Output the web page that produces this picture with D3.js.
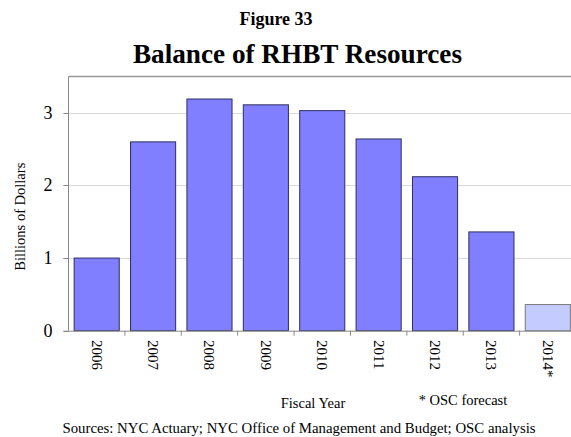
<!DOCTYPE html>
<html>
<head>
<meta charset="utf-8">
<script src="https://cdn.jsdelivr.net/npm/d3@7"></script>
<style>
  body { margin: 0; background: #fff; }
  svg text { font-family: "Liberation Serif", "Times New Roman", serif; fill: #000; }
</style>
</head>
<body>
<div id="chart"></div>
<script>
const years = ['2006', '2007', '2008', '2009', '2010', '2011', '2012', '2013', '2014*'];
const balances = [1.0, 2.6, 3.19, 3.11, 3.03, 2.64, 2.12, 1.36, 0.36];
const forecast = [false, false, false, false, false, false, false, false, true];
const yTicks = [0, 1, 2, 3];

const data = years.map((y, i) => ({year: y, value: balances[i], forecast: forecast[i]}));

const width = 571;
const height = 437;
const plot = {left: 68.5, right: 576, top: 76.5, bottom: 330.7};

const svg = d3.select('#chart')
  .append('svg')
    .attr('width', width)
    .attr('height', height);

const x = d3.scaleBand()
  .domain(years)
  .range([plot.left, plot.right])
  .paddingInner(0.2)
  .paddingOuter(0.1);

const y = d3.scaleLinear()
  .domain([0, 3.5])
  .range([plot.bottom, plot.top]);

// dotted gridlines
svg.append('g')
  .selectAll('line')
  .data(yTicks.filter(d => d > 0))
  .join('line')
    .attr('x1', plot.left - 5)
    .attr('x2', width)
    .attr('y1', d => Math.round(y(d)) + 0.5)
    .attr('y2', d => Math.round(y(d)) + 0.5)
    .attr('stroke', '#b0b0b0')
    .attr('stroke-dasharray', '1 1');

// bars
svg.append('g')
  .selectAll('rect')
  .data(data)
  .join('rect')
    .attr('x', d => x(d.year))
    .attr('y', d => y(d.value))
    .attr('width', x.bandwidth())
    .attr('height', d => y(0) - y(d.value))
    .attr('fill', d => d.forecast ? '#c3cbff' : '#7f7fff')
    .attr('stroke', d => d.forecast ? '#7a7a7a' : '#2e2e60')
    .attr('stroke-width', 1);

// frame: top and left
svg.append('line')
  .attr('x1', plot.left).attr('x2', width)
  .attr('y1', plot.top).attr('y2', plot.top)
  .attr('stroke', '#999').attr('stroke-width', 1.5);
svg.append('line')
  .attr('x1', plot.left).attr('x2', plot.left)
  .attr('y1', plot.top).attr('y2', plot.bottom)
  .attr('stroke', '#888');

// y axis ticks + labels
const yAxis = svg.append('g');
yAxis.selectAll('line')
  .data(yTicks)
  .join('line')
    .attr('x1', plot.left - 5)
    .attr('x2', plot.left)
    .attr('y1', d => Math.round(y(d)) + 0.5)
    .attr('y2', d => Math.round(y(d)) + 0.5)
    .attr('stroke', '#888');
yAxis.selectAll('text')
  .data(yTicks)
  .join('text')
    .attr('x', 52.5)
    .attr('y', d => y(d) + 6)
    .attr('text-anchor', 'end')
    .style('font-size', '18px')
    .text(d => d);

// x axis line + ticks at band boundaries
svg.append('line')
  .attr('x1', plot.left - 5).attr('x2', width)
  .attr('y1', plot.bottom + 0.5).attr('y2', plot.bottom + 0.5)
  .attr('stroke', '#888');
svg.append('g')
  .selectAll('line')
  .data(years.slice(1))
  .join('line')
    .attr('x1', d => x(d) - x.step() * x.paddingInner() / 2)
    .attr('x2', d => x(d) - x.step() * x.paddingInner() / 2)
    .attr('y1', plot.bottom)
    .attr('y2', plot.bottom + 5)
    .attr('stroke', '#888');

// x tick labels, rotated to read top-to-bottom
svg.append('g')
  .selectAll('text')
  .data(years)
  .join('text')
    .attr('transform', d => `translate(${x(d) + x.bandwidth() / 2 - 5}, 340) rotate(90)`)
    .attr('text-anchor', 'start')
    .style('font-size', '15px')
    .text(d => d);

// titles
svg.append('text')
  .attr('x', 276).attr('y', 25)
  .attr('text-anchor', 'middle')
  .style('font-size', '18px')
  .style('font-weight', 'bold')
  .text('Figure 33');
svg.append('text')
  .attr('x', 297.5).attr('y', 63)
  .attr('text-anchor', 'middle')
  .style('font-size', '27.2px')
  .style('font-weight', 'bold')
  .text('Balance of RHBT Resources');

// axis titles and notes
svg.append('text')
  .attr('transform', 'translate(25, 216.7) rotate(-90)')
  .attr('text-anchor', 'middle')
  .style('font-size', '14.5px')
  .text('Billions of Dollars');
svg.append('text')
  .attr('x', 313).attr('y', 408.3)
  .attr('text-anchor', 'middle')
  .style('font-size', '14.5px')
  .text('Fiscal Year');
svg.append('text')
  .attr('x', 463).attr('y', 405)
  .attr('text-anchor', 'middle')
  .style('font-size', '14.5px')
  .text('* OSC forecast');
svg.append('text')
  .attr('x', 299).attr('y', 433.3)
  .attr('text-anchor', 'middle')
  .style('font-size', '14.8px')
  .text('Sources: NYC Actuary; NYC Office of Management and Budget; OSC analysis');
</script>
</body>
</html>
